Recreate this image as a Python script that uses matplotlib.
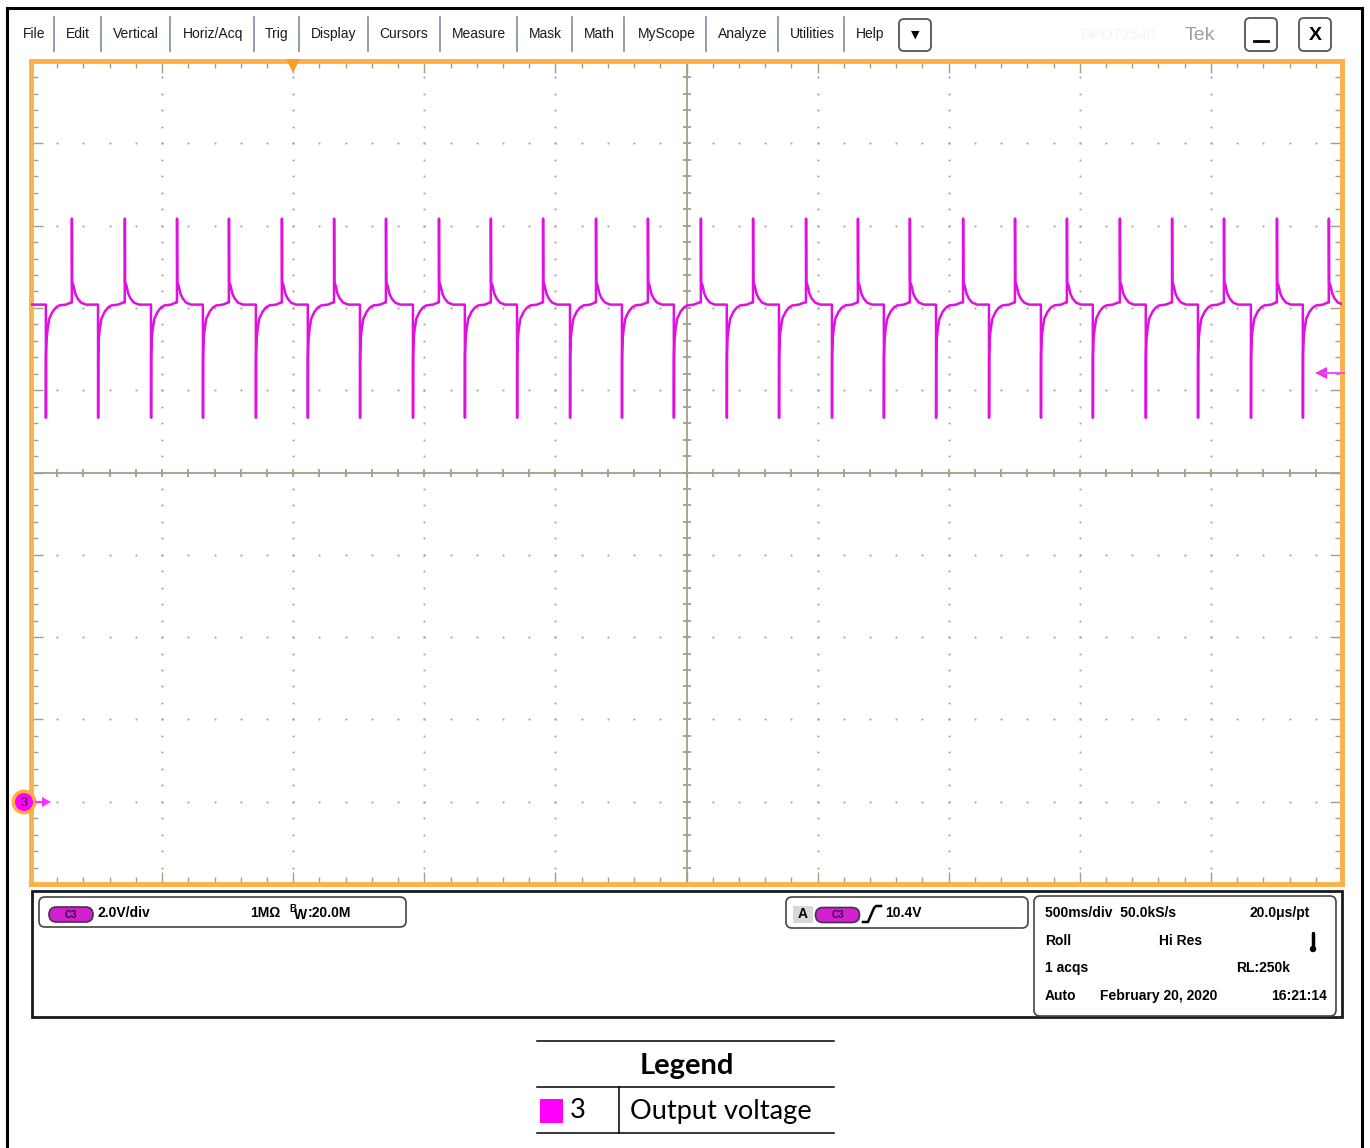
import numpy as np
import matplotlib
matplotlib.use('Agg')
import matplotlib.pyplot as plt
from matplotlib.patches import FancyBboxPatch, Rectangle, Circle, Polygon

# ---------------- data (read from the screen capture) ----------------
# times in seconds (500 ms/div, 10 div), voltages in V (2 V/div, ground at -4 div)
down_times = [0.057, 0.256, 0.458, 0.656, 0.858, 1.056, 1.255, 1.457, 1.655, 1.854,
              2.056, 2.254, 2.452, 2.654, 2.853, 3.055, 3.253, 3.452, 3.654, 3.852,
              4.050, 4.252, 4.451, 4.653, 4.851]
up_times = [0.156, 0.358, 0.557, 0.755, 0.957, 1.156, 1.354, 1.556, 1.754, 1.953,
            2.155, 2.353, 2.555, 2.754, 2.956, 3.154, 3.352, 3.555, 3.753, 3.951,
            4.153, 4.352, 4.550, 4.752, 4.950]
# shape of the trace around a falling event (offset s, volts)
down_dt = [-0.0004, 0.0, 0.0004, 0.0009, 0.0025, 0.0064, 0.0127, 0.0254, 0.0381, 0.0508, 0.0763, 0.0950]
down_v = [12.08, 9.33, 10.77, 10.95, 11.25, 11.49, 11.74, 11.91, 12.01, 12.06, 12.08, 12.13]
# shape of the trace around a rising event
up_dt = [-0.0004, 0.0, 0.0004, 0.0009, 0.0063, 0.0127, 0.0216, 0.0343, 0.0534]
up_v = [12.13, 14.17, 13.10, 12.62, 12.54, 12.35, 12.23, 12.13, 12.08]
baseline_v = 12.08
trigger_level = 10.4

menu_labels = ['File', 'Edit', 'Vertical', 'Horiz/Acq', 'Trig', 'Display', 'Cursors',
               'Measure', 'Mask', 'Math', 'MyScope', 'Analyze', 'Utilities', 'Help']
status_rows = [['500ms/div  50.0kS/s', '', '20.0μs/pt'],
               ['Roll', 'Hi Res', ''],
               ['1 acqs', '', 'RL:250k'],
               ['Auto', 'February 20, 2020', '16:21:14']]
legend_title = 'Legend'
legend_key = '3'
legend_label = 'Output voltage'

# ---------------- layout ----------------
W, H = 1370, 1148
fig = plt.figure(figsize=(W / 100, H / 100), dpi=100)
fig.patch.set_facecolor('white')

ui_font = 'Liberation Sans'
trace_col = '#E010E0'
orange = '#FBB24A'
grid_col = '#A39E88'

L, R, T, B = 31, 1342, 61, 884
ax = fig.add_axes([L / W, 1 - B / H, (R - L) / W, (B - T) / H], zorder=2)
ax.set_facecolor('white')
ax.set_xlim(0, 5)
ax.set_ylim(-2, 18)
for s in ax.spines.values():
    s.set_color(orange)
    s.set_linewidth(3.5)
ax.set_xticks(np.arange(0, 5.001, 0.5))
ax.set_xticks(np.arange(0, 5.001, 0.1), minor=True)
ax.set_yticks(np.arange(-2, 18.001, 2))
ax.set_yticks(np.arange(-2, 18.001, 0.4), minor=True)
ax.tick_params(which='both', direction='in', top=True, right=True,
               labelbottom=False, labelleft=False, color=grid_col, width=1)
ax.tick_params(which='major', length=8.5)
ax.tick_params(which='minor', length=5)

# dotted graticule
xs_major = np.arange(0.5, 4.6, 0.5)
ys_major = np.arange(0, 16.1, 2)
dot_y = np.arange(-2, 18.01, 0.4)
dot_x = np.arange(0, 5.001, 0.1)
for xm in xs_major:
    if abs(xm - 2.5) > 1e-6:
        ax.plot(np.full_like(dot_y, xm), dot_y, ls='none', marker='s', ms=1.3,
                mec='none', color=grid_col)
for ym in ys_major:
    if abs(ym - 8) > 1e-6:
        ax.plot(dot_x, np.full_like(dot_x, ym), ls='none', marker='s', ms=1.3,
                mec='none', color=grid_col)
# center cross
ax.axvline(2.5, color=grid_col, lw=1.3)
ax.axhline(8, color=grid_col, lw=1.3)
ax.plot(dot_x, np.full_like(dot_x, 8.0), ls='none', marker='|', ms=6, mew=1.3, color=grid_col)
ax.plot(np.full_like(dot_y, 2.5), dot_y, ls='none', marker='_', ms=6, mew=1.3, color=grid_col)

# trace
events = sorted([(t, 'd') for t in down_times] + [(t, 'u') for t in up_times])
tt = [0.0]
vv = [baseline_v]
for te, kind in events:
    dts, vs = (down_dt, down_v) if kind == 'd' else (up_dt, up_v)
    tt.extend([te + d for d in dts])
    vv.extend(vs)
ax.plot(tt, vv, color=trace_col, lw=1.8, zorder=5, solid_joinstyle='round')

# ---------------- overlay in pixel coordinates ----------------
ov = fig.add_axes([0, 0, 1, 1], zorder=5)
ov.set_xlim(0, W)
ov.set_ylim(H, 0)
ov.axis('off')
ov.patch.set_visible(False)

# outer black frame
ov.plot([7, 7], [8, H + 5], color='black', lw=2.2)
ov.plot([1362, 1362], [8, H + 5], color='black', lw=2.2)
ov.plot([7, 1362], [8, 8], color='black', lw=2.2)

# menu bar
menu_cx = [34, 78, 136, 213, 277, 334, 404, 479, 545, 599, 667, 743, 812, 870]
seps = [54, 101, 170, 254, 299, 368, 440, 517, 572, 624, 706, 778, 844]
for lab, cx in zip(menu_labels, menu_cx):
    ov.text(cx, 34, lab, ha='center', va='center', fontsize=10, family=ui_font, color='#1a1a1a')
for sx in seps:
    ov.plot([sx, sx], [17, 51], color='#7d8aa8', lw=1.2)


def rbox(x0, y0, x1, y1, r=5, ec='#444444', lw=1.2, fc='none'):
    ov.add_patch(FancyBboxPatch((x0, y0), x1 - x0, y1 - y0,
                                boxstyle=f'round,pad=0,rounding_size={r}',
                                ec=ec, fc=fc, lw=lw))


rbox(899, 19, 931, 51, r=5, ec='#555555', lw=1.3)
ov.text(915, 35, '▼', ha='center', va='center', fontsize=8, family='DejaVu Sans', color='black')
ov.text(1118, 35, 'DPO72540', ha='center', va='center', fontsize=11, family=ui_font, color='#f3f3f3')
ov.text(1200, 35, 'Tek', ha='center', va='center', fontsize=14, family=ui_font, color='#a0a0a0')
rbox(1245, 18, 1277, 51, r=5, ec='#555555', lw=1.3)
ov.plot([1254, 1268], [41, 41], color='black', lw=2)
rbox(1299, 18, 1331, 51, r=5, ec='#555555', lw=1.3)
ov.text(1315, 36, 'X', ha='center', va='center', fontsize=14, family=ui_font,
        weight='bold', color='black')

# trigger position marker
ov.add_patch(Polygon([[286, 59], [300, 59], [293, 73]], closed=True, fc='#F8A020', ec='none'))
# channel ground marker
ov.add_patch(Circle((24, 802), 12.5, fc='#FFB040', ec='none'))
ov.add_patch(Circle((24, 802), 9, fc='#FF00FF', ec='none'))
ov.text(24, 802.5, '3', ha='center', va='center', fontsize=9, family=ui_font, color='#300030')
ov.plot([36, 44], [802, 802], color='#FF30FF', lw=1.5)
ov.add_patch(Polygon([[42, 797], [51, 802], [42, 807]], closed=True, fc='#FF30FF', ec='none'))
# trigger level marker
ov.plot([1324, 1344], [373, 373], color='#F050F0', lw=1.5)
ov.add_patch(Polygon([[1315, 373], [1327, 367], [1327, 379]], closed=True, fc='#F030F0', ec='none'))

# bottom status panel
ov.add_patch(Rectangle((32, 891), 1310, 126, fc='none', ec='#1a1a1a', lw=2))


def pill(cx, cy, w=44, h=15):
    ov.add_patch(FancyBboxPatch((cx - w / 2, cy - h / 2), w, h,
                                boxstyle=f'round,pad=0,rounding_size={h / 2}',
                                fc='#D020D0', ec='#4a304a', lw=1.2))
    ov.text(cx, cy + 0.5, 'C3', ha='center', va='center', fontsize=7, family=ui_font,
            weight='bold', color='#300030')


rbox(39, 897, 406, 927, r=6)
pill(71, 914.5)
ov.text(98, 913, '2.0V/div', ha='left', va='center', fontsize=10, family=ui_font, weight='bold')
ov.text(250, 913, '1MΩ', ha='left', va='center', fontsize=10, family=ui_font, weight='bold')
ov.text(289, 909, 'B', ha='left', va='center', fontsize=7, family=ui_font, weight='bold')
ov.text(294, 915, 'W', ha='left', va='center', fontsize=10, family=ui_font, weight='bold')
ov.text(308, 913, ':20.0M', ha='left', va='center', fontsize=10, family=ui_font, weight='bold')

rbox(786, 897, 1028, 928, r=6)
ov.add_patch(Rectangle((793, 906), 20, 17, fc='#d8d8d8', ec='none'))
ov.text(803, 914, 'A', ha='center', va='center', fontsize=10, family=ui_font, weight='bold')
pill(837.5, 915)
ov.plot([863, 868, 874, 876, 881], [922, 922, 908, 906, 906], color='black', lw=1.8)
ov.text(885, 913, f'{trigger_level:.1f}V', ha='left', va='center', fontsize=10,
        family=ui_font, weight='bold')

rbox(1034, 896, 1336, 1016, r=6)
row_y = [913, 941, 968, 996]
for (a, b, c), y in zip(status_rows, row_y):
    ov.text(1045, y, a, ha='left', va='center', fontsize=10, family=ui_font, weight='bold')
ov.text(1159, 941, status_rows[1][1], ha='left', va='center', fontsize=10, family=ui_font, weight='bold')
ov.text(1100, 996, status_rows[3][1], ha='left', va='center', fontsize=10, family=ui_font, weight='bold')
ov.text(1310, 913, status_rows[0][2], ha='right', va='center', fontsize=10, family=ui_font, weight='bold')
ov.text(1290, 968, status_rows[2][2], ha='right', va='center', fontsize=10, family=ui_font, weight='bold')
ov.text(1327, 996, status_rows[3][2], ha='right', va='center', fontsize=10, family=ui_font, weight='bold')
# thermometer icon
ov.plot([1313, 1313], [933, 948], color='black', lw=2.5, solid_capstyle='round')
ov.add_patch(Circle((1313, 949), 3.2, fc='black', ec='none'))

# legend table
ov.plot([537, 834], [1041, 1041], color='black', lw=1.1)
ov.plot([537, 834], [1087, 1087], color='black', lw=1.1)
ov.plot([537, 834], [1133, 1133], color='black', lw=1.1)
ov.plot([619, 619], [1087, 1133], color='black', lw=1.1)
ov.text(687, 1066, legend_title, ha='center', va='center', fontsize=21, family='Lato', weight='bold')
ov.add_patch(Rectangle((540, 1099), 23, 24, fc='#FF00FF', ec='none'))
ov.text(570, 1111, legend_key, ha='left', va='center', fontsize=19.6, family='Lato')
ov.text(630, 1111, legend_label, ha='left', va='center', fontsize=19.6, family='Lato')

fig.savefig('out.png', dpi=100, facecolor='white')
